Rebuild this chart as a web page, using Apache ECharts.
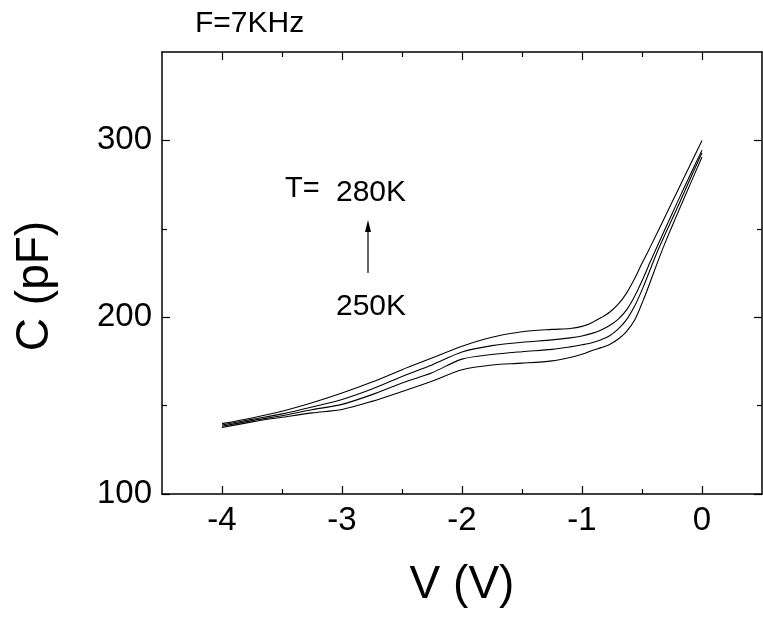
<!DOCTYPE html>
<html><head><meta charset="utf-8">
<script src="https://cdn.jsdelivr.net/npm/echarts@6/dist/echarts.min.js"></script>
<style>html,body{margin:0;padding:0;background:#fff}#c{width:763px;height:617px}</style>
</head><body><div id="c"></div>
<script>
const FONT = '"Liberation Sans", Arial, Helvetica, sans-serif';

// tick positions
const voltageTicks = [-4, -3, -2, -1, 0];
const voltageMinorTicks = [-3.5, -2.5, -1.5, -0.5];
const capTicks = [100, 200, 300];
const capMinorTicks = [150, 250];

// C-V curves, [V, C(pF)]
const c280 = [[-4,139.8],[-3.75,143],[-3.5,146.8],[-3.25,151.6],[-3,157.1],[-2.75,163.3],[-2.5,170.3],[-2.25,176.9],[-2,183.6],[-1.75,188.7],[-1.5,191.8],[-1.25,193.1],[-1.1,193.6],[-1,194.8],[-0.91,197.2],[-0.84,199.8],[-0.77,202.8],[-0.7,207.2],[-0.63,213.5],[-0.56,222],[-0.5,230.5],[-0.44,238.5],[-0.3,258],[-0.2,272],[-0.1,286],[0,300]];
const c270 = [[-4,139],[-3.75,142.2],[-3.5,145.3],[-3.25,149.2],[-3,153.5],[-2.75,159.4],[-2.5,166.5],[-2.25,173],[-2,180.3],[-1.75,183.9],[-1.5,185.8],[-1.25,187.2],[-1.1,188.3],[-1,189.4],[-0.91,191],[-0.84,192.8],[-0.77,195.3],[-0.7,198.8],[-0.63,204],[-0.56,212],[-0.49,222],[-0.43,231.5],[-0.3,251],[-0.2,265.8],[-0.1,280.3],[0,294.5]];
const c260 = [[-4,138.3],[-3.75,141.5],[-3.5,144.3],[-3.25,147.7],[-3,150.7],[-2.75,156.2],[-2.5,162.8],[-2.25,168.6],[-2,176.3],[-1.75,178.9],[-1.5,180.5],[-1.25,181.8],[-1.1,183.2],[-1,184.4],[-0.91,185.7],[-0.84,187.3],[-0.77,189.5],[-0.7,193.3],[-0.63,198.5],[-0.56,206.5],[-0.49,217],[-0.42,229],[-0.35,240.5],[-0.2,262.8],[-0.1,278],[0,293]];
const c250 = [[-4,137.6],[-3.75,140.8],[-3.5,143.4],[-3.25,145.9],[-3,147.8],[-2.75,152.4],[-2.5,158],[-2.25,163.8],[-2,170.3],[-1.75,173],[-1.5,174],[-1.25,175.3],[-1.1,177.2],[-1,179],[-0.91,181.3],[-0.84,182.8],[-0.77,184.6],[-0.7,187.5],[-0.63,191.8],[-0.56,198.5],[-0.49,209.5],[-0.42,222],[-0.36,233],[-0.3,243.3],[-0.2,259.3],[-0.1,275],[0,290.6]];
const curves = [['280K', c280], ['270K', c270], ['260K', c260], ['250K', c250]];

const chart = echarts.init(document.getElementById('c'), null, {renderer: 'canvas'});

function xAx(pos, ticks, len, showLine, showLabel) {
  return {
    type: 'value', position: pos, min: -4.5, max: 0.5,
    axisLine: {show: showLine, onZero: false, lineStyle: {color: '#000', width: 1.5}},
    axisTick: {show: true, inside: true, length: len, customValues: ticks, lineStyle: {color: '#000', width: 1.2}},
    axisLabel: {show: showLabel, customValues: ticks, fontSize: 33, color: '#000', fontFamily: FONT, margin: 10},
    splitLine: {show: false}
  };
}
function yAx(pos, ticks, len, showLine, showLabel) {
  return {
    type: 'value', position: pos, min: 100, max: 350,
    axisLine: {show: showLine, onZero: false, lineStyle: {color: '#000', width: 1.5}},
    axisTick: {show: true, inside: true, length: len, customValues: ticks, lineStyle: {color: '#000', width: 1.2}},
    axisLabel: {show: showLabel, customValues: ticks, fontSize: 33, color: '#000', fontFamily: FONT, margin: 10},
    splitLine: {show: false}
  };
}

function txt(x, y, text, size, align, extra) {
  return Object.assign({
    type: 'text', x: x, y: y, z: 10,
    style: {text: text, fill: '#000', font: size + 'px ' + FONT,
      textAlign: align, textVerticalAlign: 'middle', align: align, verticalAlign: 'middle'}
  }, extra || {});
}

chart.setOption({
  animation: false,
  backgroundColor: '#fff',
  grid: {left: 162, right: 1, top: 52, bottom: 123, containLabel: false},
  xAxis: [
    xAx('bottom', voltageTicks, 8, true, true),
    xAx('bottom', voltageMinorTicks, 5, false, false),
    xAx('top', voltageTicks, 8, true, false),
    xAx('top', voltageMinorTicks, 5, false, false)
  ],
  yAxis: [
    yAx('left', capTicks, 8, true, true),
    yAx('left', capMinorTicks, 5, false, false),
    yAx('right', capTicks, 8, true, false),
    yAx('right', capMinorTicks, 5, false, false)
  ],
  series: curves.map(([name, data]) => ({
    name: name, type: 'line', data: data, xAxisIndex: 0, yAxisIndex: 0,
    showSymbol: false, smooth: 0.3,
    lineStyle: {color: '#000', width: 1.1}
  })),
  graphic: [
    txt(195, 24, 'F=7KHz', 30, 'left'),
    txt(462, 585, 'V (V)', 46, 'center'),
    txt(35, 286, 'C (pF)', 46, 'center', {rotation: Math.PI / 2}),
    txt(285, 188.5, 'T=', 29, 'left'),
    txt(336, 193, '280K', 30, 'left'),
    txt(336, 307, '250K', 30, 'left'),
    {type: 'line', z: 10, shape: {x1: 368, y1: 273, x2: 368, y2: 230}, style: {stroke: '#000', lineWidth: 1.2}},
    {type: 'polygon', z: 10, shape: {points: [[368, 220], [365, 232], [371, 232]]}, style: {fill: '#000'}}
  ]
});
</script></body></html>
